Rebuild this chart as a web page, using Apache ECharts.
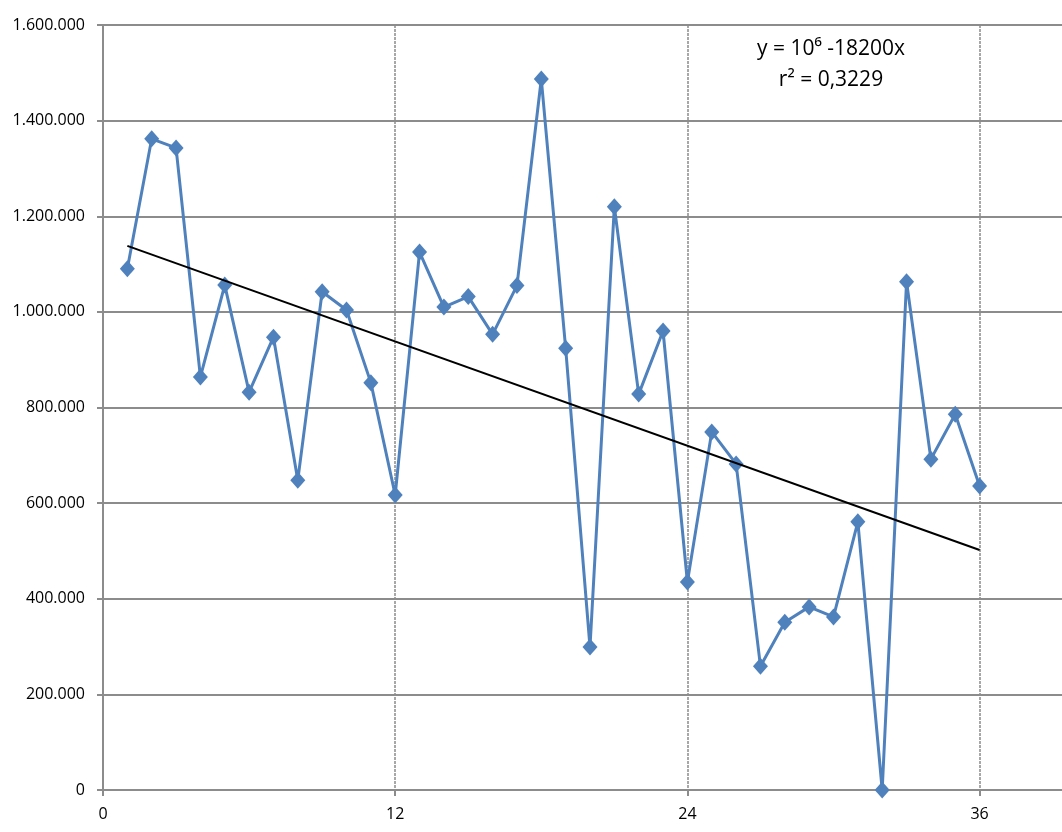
<!DOCTYPE html>
<html><head><meta charset="utf-8">
<script src="https://cdn.jsdelivr.net/npm/echarts@6/dist/echarts.min.js"></script>
<style>html,body{margin:0;padding:0;background:#fff;overflow:hidden}#c{width:1090px;height:832px}</style>
</head><body><div id="c"></div>
<script>
const xValues = [1,2,3,4,5,6,7,8,9,10,11,12,13,14,15,16,17,18,19,20,21,22,23,24,25,26,27,28,29,30,31,32,33,34,35,36];
const yValues = [1090000,1362000,1343000,864000,1056000,832000,947000,648000,1042000,1004000,852000,617000,1125000,1010000,1032000,953000,1055000,1487000,924000,299000,1220000,828000,960000,435000,749000,682000,259000,351000,383000,362000,561000,0,1063000,692000,786000,636000];
const trendX = [1, 36];
const trendY = [1138000, 502000];
const equationLines = ['y = 10\u2076 -18200x', 'r\u00b2 = 0,3229'];

const fmt = v => String(Math.round(v)).replace(/\B(?=(\d{3})+(?!\d))/g, '.');
const chart = echarts.init(document.getElementById('c'), null, {renderer: 'canvas'});
const font = '"Open Sans", "Liberation Sans", sans-serif';
chart.setOption({
  animation: false,
  backgroundColor: '#fff',
  grid: {left: 103, right: 13, top: 25, bottom: 42, containLabel: false},
  xAxis: {
    type: 'value', min: 0, max: 40, interval: 12,
    axisLine: {show: true, lineStyle: {color: '#8c8c8c', width: 2}},
    axisTick: {show: true, length: 6, inside: false, lineStyle: {color: '#8c8c8c', width: 2}},
    axisLabel: {color: '#000', fontSize: 16, fontFamily: font, margin: 16,
      formatter: v => (v % 12 === 0 ? String(v) : '')},
    splitLine: {show: true, lineStyle: {color: '#8c8c8c', width: 1.5, type: [3, 1]}}
  },
  yAxis: {
    type: 'value', min: 0, max: 1600000, interval: 200000,
    axisLine: {show: true, lineStyle: {color: '#8c8c8c', width: 2}},
    axisTick: {show: true, length: 6, lineStyle: {color: '#8c8c8c', width: 2}},
    axisLabel: {color: '#000', fontSize: 16, fontFamily: font, margin: 18, formatter: fmt},
    splitLine: {show: true, lineStyle: {color: '#8c8c8c', width: 2}}
  },
  series: [
    {
      type: 'line', data: xValues.map((x, i) => [x, yValues[i]]),
      symbol: 'diamond', symbolSize: [15, 17],
      lineStyle: {color: '#4F81BD', width: 3},
      itemStyle: {color: '#4F81BD'},
      z: 3
    },
    {
      type: 'line', data: trendX.map((x, i) => [x, trendY[i]]),
      symbol: 'none', lineStyle: {color: '#000', width: 2}, z: 4
    }
  ],
  graphic: [{
    type: 'text', x: 831, y: 34,
    style: {text: equationLines.join('\n'), font: '21px ' + font, fill: '#000',
      align: 'center', textAlign: 'center', lineHeight: 31}
  }]
});
</script></body></html>
